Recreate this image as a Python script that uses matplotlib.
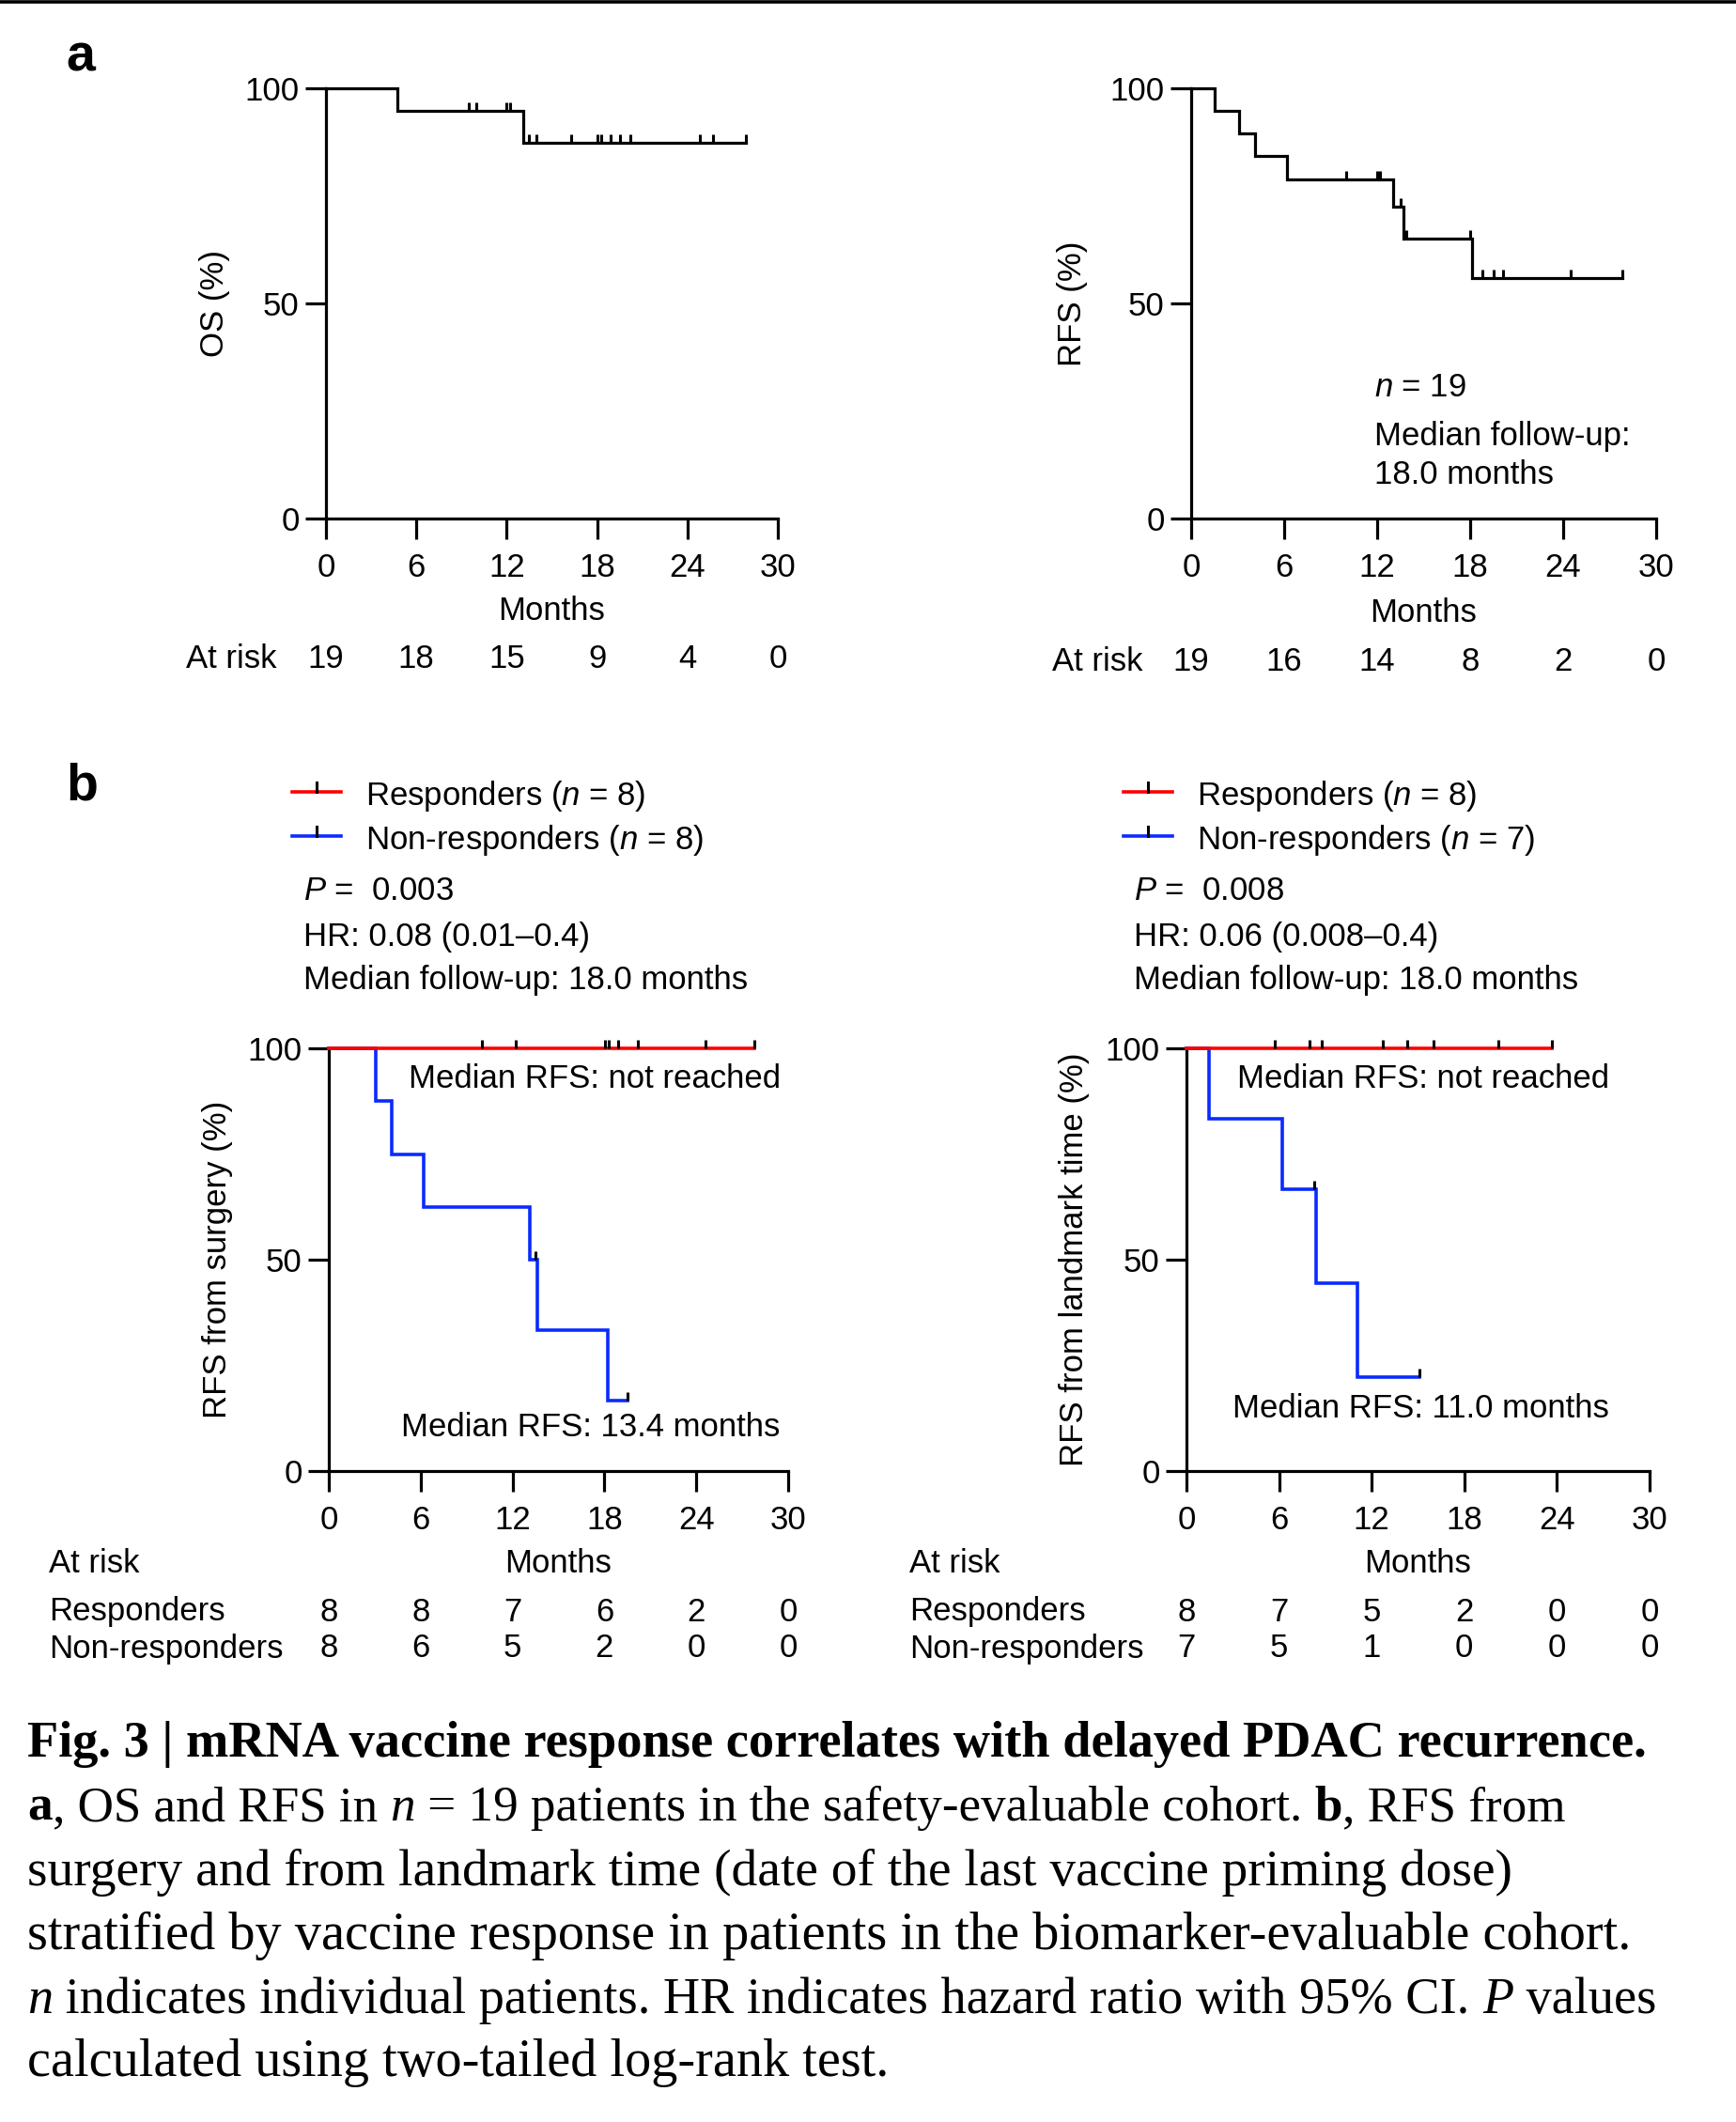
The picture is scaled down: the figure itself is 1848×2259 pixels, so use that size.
import numpy as np
import matplotlib
matplotlib.use("Agg")
import matplotlib.pyplot as plt
from matplotlib.lines import Line2D
from matplotlib.transforms import blended_transform_factory

W, H = 1848, 2259

MONTHS = [0, 6, 12, 18, 24, 30]

# panel a, overall survival (n = 19)
OS_T = [0, 4.75, 13.1]
OS_S = [100, 94.7, 87.4]
OS_END = 27.9
OS_CENSOR = [9.5, 10.0, 12.0, 12.2, 13.5, 14.0, 16.3, 18.0, 18.3, 18.9, 19.5,
             20.2, 24.8, 25.7, 27.9]
OS_AT_RISK = [19, 18, 15, 9, 4, 0]

# panel a, recurrence-free survival (n = 19)
RFS_T = [0, 1.5, 3.1, 4.1, 6.2, 13.0, 13.7, 18.1]
RFS_S = [100, 94.7, 89.5, 84.2, 78.9, 72.4, 65.1, 55.8]
RFS_END = 27.8
RFS_CENSOR = [10.0, 12.0, 12.2, 13.5, 13.9, 18.0, 18.8, 19.5, 20.1, 24.5, 27.8]
RFS_AT_RISK = [19, 16, 14, 8, 2, 0]

# panel b, RFS from surgery
SUR_RESP_T = [0]
SUR_RESP_S = [100]
SUR_RESP_END = 27.8
SUR_RESP_CENSOR = [10.0, 12.2, 18.05, 18.3, 18.9, 20.2, 24.6, 27.8]
SUR_NON_T = [0, 3.07, 4.13, 6.2, 13.1, 13.65, 18.2]
SUR_NON_S = [100, 87.5, 75.0, 62.5, 50.0, 33.3, 16.7]
SUR_NON_END = 19.5
SUR_NON_CENSOR = [13.5, 19.5]
SUR_RESP_RISK = [8, 8, 7, 6, 2, 0]
SUR_NON_RISK = [8, 6, 5, 2, 0, 0]

# panel b, RFS from landmark time
LMK_RESP_T = [0]
LMK_RESP_S = [100]
LMK_RESP_END = 23.7
LMK_RESP_CENSOR = [5.7, 8.0, 8.75, 12.7, 14.3, 16.0, 20.2, 23.7]
LMK_NON_T = [0, 1.47, 6.2, 8.4, 11.1]
LMK_NON_S = [100, 83.3, 66.7, 44.4, 22.2]
LMK_NON_END = 15.1
LMK_NON_CENSOR = [8.3, 15.1]
LMK_RESP_RISK = [8, 7, 5, 2, 0, 0]
LMK_NON_RISK = [7, 5, 1, 0, 0, 0]

RED = "#ff0000"
BLUE = "#0a2aff"
FS = 25

plt.rcParams["font.family"] = "Liberation Sans"
plt.rcParams["mathtext.fontset"] = "custom"
plt.rcParams["mathtext.rm"] = "Liberation Sans"
plt.rcParams["mathtext.it"] = "Liberation Sans:italic"

fig = plt.figure(figsize=(W / 100, H / 100), dpi=100)


def fx(x):
    return x / W


def fy(y):
    return 1 - y / H


def fyc(y):
    # centre of a text line (va="center" sits a few px high)
    return fy(y + 3)


def add_axes(left, top, right, bottom):
    return fig.add_axes([fx(left), fy(bottom), (right - left) / W, (bottom - top) / H])


TICK = [(0, 0), (0, 1)]  # upward censor tick, starts on the curve


def km(ax, t, s, end, censor, color, lw=2.3):
    x = list(t) + [end]
    y = list(s) + [s[-1]]
    ax.step(x, y, where="post", color=color, lw=lw, clip_on=False,
            solid_joinstyle="miter", zorder=3)
    t = np.asarray(t)
    lev = [s[np.searchsorted(t, c, side="right") - 1] for c in censor]
    ax.plot(censor, lev, ls="none", marker=TICK, ms=13, mew=2.2, mec="k",
            clip_on=False, zorder=4)


def style_axes(ax, ylabel, ylab_x, months_y):
    ax.set_xlim(0, 30)
    ax.set_ylim(0, 100)
    ax.set_xticks(MONTHS)
    ax.set_yticks([0, 50, 100])
    ax.spines["top"].set_visible(False)
    ax.spines["right"].set_visible(False)
    for s in ["left", "bottom"]:
        ax.spines[s].set_linewidth(2.3)
    ax.tick_params(length=16, width=2.3, labelsize=FS)
    ax.tick_params(axis="y", pad=4.5)
    ax.tick_params(axis="x", pad=10)
    ax.set_ylabel(ylabel, fontsize=FS)
    ax.yaxis.set_label_coords(ylab_x, 0.5)
    ax.set_xlabel("Months", fontsize=FS)
    ax.xaxis.set_label_coords(0.5, fyc(months_y),
                              transform=blended_transform_factory(ax.transAxes, fig.transFigure))
    ax.xaxis.label.set_va("center")


def risk_row(ax, y, counts):
    tr = blended_transform_factory(ax.transData, fig.transFigure)
    for m, c in zip(MONTHS, counts):
        ax.text(m, fyc(y), str(c), transform=tr, ha="center", va="center", fontsize=FS)


# top rule
fig.add_artist(Line2D([0, 1], [fy(1.5), fy(1.5)], color="k", lw=2.6, transform=fig.transFigure))

# ---------------- panel a ----------------
fig.text(fx(70), fy(62), "a", fontsize=40, fontweight="bold", va="center")

ax_os = add_axes(347, 94, 828, 552)
km(ax_os, OS_T, OS_S, OS_END, OS_CENSOR, "k")
style_axes(ax_os, "OS (%)", -0.212, 648)
risk_row(ax_os, 699, OS_AT_RISK)
fig.text(fx(295), fyc(699), "At risk", ha="right", va="center", fontsize=FS)

ax_rfs = add_axes(1268, 94, 1763, 552)
km(ax_rfs, RFS_T, RFS_S, RFS_END, RFS_CENSOR, "k")
style_axes(ax_rfs, "RFS (%)", -0.223, 650)
risk_row(ax_rfs, 701, RFS_AT_RISK)
fig.text(fx(1217), fyc(701), "At risk", ha="right", va="center", fontsize=FS)
ax_rfs.text(11.8, 30.5, "$n$ = 19", fontsize=FS, va="center")
ax_rfs.text(11.8, 19.0, "Median follow-up:", fontsize=FS, va="center")
ax_rfs.text(11.8, 10.2, "18.0 months", fontsize=FS, va="center")

# ---------------- panel b ----------------
fig.text(fx(70), fy(837), "b", fontsize=40, fontweight="bold", va="center")


def legend_row(x0, x1, y, color, label, text_x):
    fig.add_artist(Line2D([fx(x0), fx(x1)], [fy(y), fy(y)], color=color, lw=2.6,
                          transform=fig.transFigure))
    xm = (x0 + x1) / 2
    fig.add_artist(Line2D([fx(xm), fx(xm)], [fy(y), fy(y - 10)], color="k", lw=2.2,
                          transform=fig.transFigure))
    fig.text(fx(text_x), fyc(y + 2), label, fontsize=FS, va="center")


def panel_b(ax, ylabel, resp, non, resp_risk, non_risk, n_non, p_txt, hr_txt,
            med_non, med_non_y, med_x, leg_x, txt_x, risk_x):
    km(ax, *non, BLUE, lw=2.6)
    km(ax, *resp, RED, lw=2.6)
    ax.text(med_x, 92.7, "Median RFS: not reached", fontsize=FS, ha="right", va="center")
    ax.text(med_x, med_non_y, med_non, fontsize=FS, ha="right", va="center")
    legend_row(leg_x, leg_x + 52, 843, RED, "Responders ($n$ = 8)", leg_x + 78)
    legend_row(leg_x, leg_x + 52, 890, BLUE, "Non-responders ($n$ = %d)" % n_non, leg_x + 78)
    fig.text(fx(txt_x), fyc(946), "$P$ =  " + p_txt, fontsize=FS, va="center")
    fig.text(fx(txt_x), fyc(994), hr_txt, fontsize=FS, va="center")
    fig.text(fx(txt_x), fyc(1041), "Median follow-up: 18.0 months", fontsize=FS, va="center")
    style_axes(ax, ylabel, -0.209, 1661)
    fig.text(fx(risk_x), fyc(1661), "At risk", fontsize=FS, va="center")
    fig.text(fx(risk_x), fyc(1713), "Responders", fontsize=FS, va="center")
    fig.text(fx(risk_x), fyc(1752), "Non-responders", fontsize=FS, va="center")
    risk_row(ax, 1713, resp_risk)
    risk_row(ax, 1752, non_risk)


ax_sur = add_axes(350, 1116, 839, 1566)
panel_b(ax_sur, "RFS from surgery (%)",
        (SUR_RESP_T, SUR_RESP_S, SUR_RESP_END, SUR_RESP_CENSOR),
        (SUR_NON_T, SUR_NON_S, SUR_NON_END, SUR_NON_CENSOR),
        SUR_RESP_RISK, SUR_NON_RISK, 8, "0.003", "HR: 0.08 (0.01\u20130.4)",
        "Median RFS: 13.4 months", 10.4, 29.5, 311, 323, 52)

ax_lmk = add_axes(1263, 1116, 1756, 1566)
panel_b(ax_lmk, "RFS from landmark time (%)",
        (LMK_RESP_T, LMK_RESP_S, LMK_RESP_END, LMK_RESP_CENSOR),
        (LMK_NON_T, LMK_NON_S, LMK_NON_END, LMK_NON_CENSOR),
        LMK_RESP_RISK, LMK_NON_RISK, 7, "0.008", "HR: 0.06 (0.008\u20130.4)",
        "Median RFS: 11.0 months", 14.7, 27.4, 1196, 1207, 968)

# ---------------- caption ----------------
CAP_FONT = "Liberation Serif"
CAP_LEFT = 29
renderer = fig.canvas.get_renderer()


def run_width(txt, size, weight, style):
    t1 = fig.text(0, 0, txt + "l", fontsize=size, fontweight=weight, fontstyle=style, family=CAP_FONT)
    t2 = fig.text(0, 0, "l", fontsize=size, fontweight=weight, fontstyle=style, family=CAP_FONT)
    w = t1.get_window_extent(renderer).width - t2.get_window_extent(renderer).width
    t1.remove()
    t2.remove()
    return w


def line_width(runs, size):
    return sum(run_width(t, size, wt, st) for t, wt, st in runs)


def draw_runs(y, runs, size):
    x = CAP_LEFT
    for txt, wt, st in runs:
        fig.text(fx(x), fy(y), txt, fontsize=size, fontweight=wt, fontstyle=st,
                 family=CAP_FONT, va="baseline")
        x += run_width(txt, size, wt, st)


R, B, I = ("normal", "normal"), ("bold", "normal"), ("normal", "italic")
CAPTION = [
    [("Fig. 3 | mRNA vaccine response correlates with delayed PDAC recurrence.",) + B],
    [("a",) + B, (", OS and RFS in ",) + R, ("n",) + I,
     (" = 19 patients in the safety-evaluable cohort. ",) + R, ("b",) + B, (", RFS from",) + R],
    [("surgery and from landmark time (date of the last vaccine priming dose)",) + R],
    [("stratified by vaccine response in patients in the biomarker-evaluable cohort.",) + R],
    [("n",) + I, (" indicates individual patients. HR indicates hazard ratio with 95% CI. ",) + R,
     ("P",) + I, (" values",) + R],
    [("calculated using two-tailed log-rank test.",) + R],
]
CAP_BASE = [1870, 1938, 2007, 2075, 2143, 2210]
CAP_RIGHT = [1750, 1667, 1610, 1739, 1760, 946]

for y, right, runs in zip(CAP_BASE, CAP_RIGHT, CAPTION):
    size = 30 * (right - CAP_LEFT) / line_width(runs, 30)
    draw_runs(y, runs, size)

fig.savefig("out.png", dpi=100)
